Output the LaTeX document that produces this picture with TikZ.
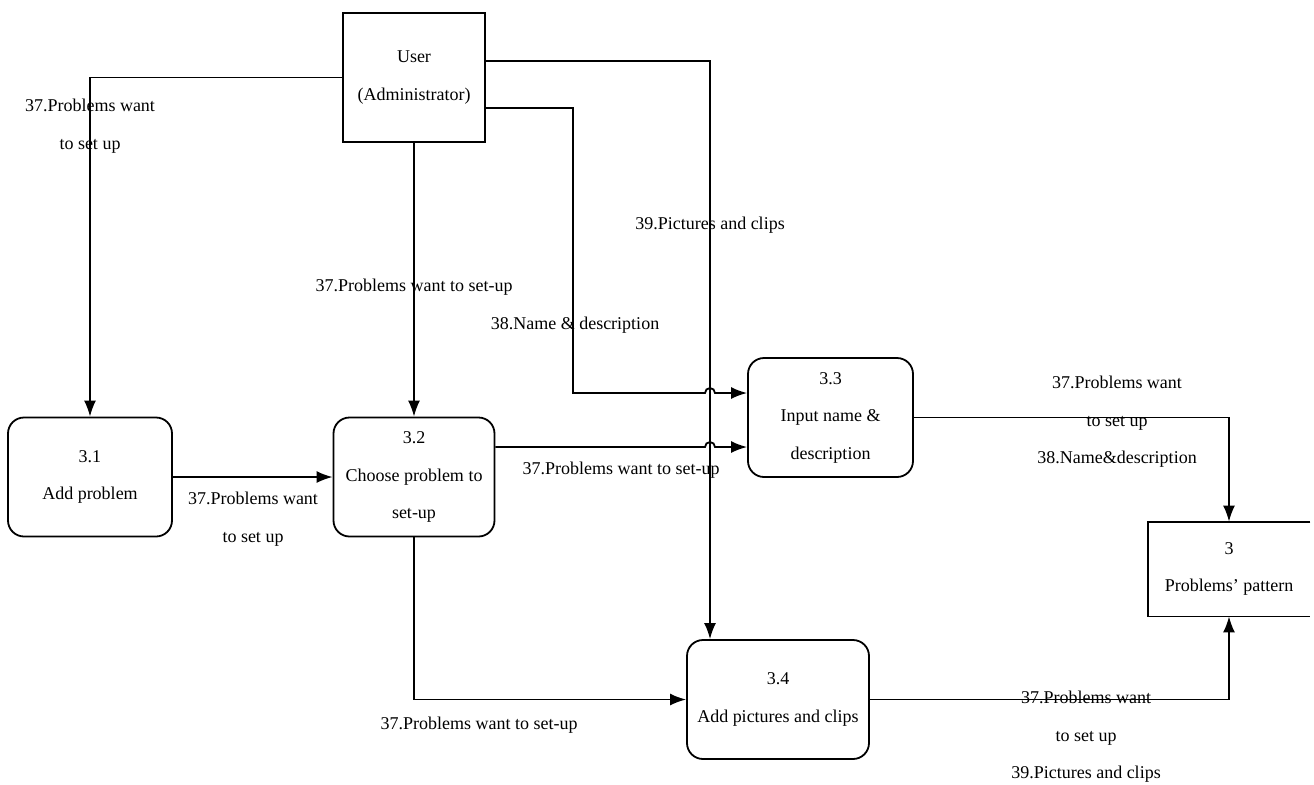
\documentclass[tikz,border=0pt]{standalone}
\usepackage{fontspec}
\setmainfont{Liberation Serif}
\usepackage{tikz}
\usetikzlibrary{arrows.meta}
\tikzstyle{process}=[draw=black, line width=0.9pt, rounded corners=8pt, align=center, inner sep=0pt, minimum height=59.5pt]
\tikzstyle{entity}=[draw=black, line width=0.9pt, align=center, inner sep=0pt]
\tikzstyle{store}=[align=center, inner sep=0pt, minimum width=81pt, minimum height=47pt]
\tikzstyle{flow label}=[align=center, inner sep=0pt]
\tikzstyle{dataflow}=[draw=black, line width=0.9pt, -{Latex[length=8pt,width=6pt]}]
\tikzstyle{plain line}=[draw=black, line width=0.9pt]
\pgfdeclarelayer{nodelayer}
\pgfdeclarelayer{edgelayer}
\pgfsetlayers{main,nodelayer,edgelayer}

\begin{document}
\begin{tikzpicture}[x=0.5pt, y=-0.5pt, font=\fontsize{9}{18.75}\selectfont]
	\useasboundingbox (0, 0) rectangle (1314, 784);
	\begin{pgfonlayer}{nodelayer}
		\node [style=entity, minimum width=71pt, minimum height=64.5pt] (0) at (414, 77.5) {User\\(Administrator)};
		\node [style=process, minimum width=82pt] (1) at (90, 477) {3.1\\Add problem};
		\node [style=process, minimum width=80.5pt] (2) at (414, 477) {3.2\\Choose problem to\\set-up};
		\node [style=process, minimum width=82.5pt] (3) at (830.5, 417.5) {3.3\\Input name \&\\description};
		\node [style=store] (4) at (1229, 569) {3\\Problems’ pattern};
		\node [style=process, minimum width=91pt] (5) at (778, 699.5) {3.4\\Add pictures and clips};

		\node [style=flow label] (20) at (90, 126) {37.Problems want\\to set up};
		\node [style=flow label] (21) at (414, 287) {37.Problems want to set-up};
		\node [style=flow label] (22) at (575, 325) {38.Name \& description};
		\node [style=flow label] (23) at (710, 225) {39.Pictures and clips};
		\node [style=flow label] (24) at (253, 519) {37.Problems want\\to set up};
		\node [style=flow label] (25) at (621, 470) {37.Problems want to set-up};
		\node [style=flow label] (26) at (479, 725) {37.Problems want to set-up};
		\node [style=flow label] (27) at (1117, 422) {37.Problems want\\to set up\\38.Name\&description};
		\node [style=flow label] (28) at (1086, 737) {37.Problems want\\to set up\\39.Pictures and clips};

		\coordinate (10) at (710, 61);
		\coordinate (11) at (573, 108);
		\coordinate (12) at (710, 393);
		\coordinate (13) at (710, 447);
	\end{pgfonlayer}
	\begin{pgfonlayer}{edgelayer}
		\draw [style=plain line] (4.north east) -- (4.north west) -- (4.south west) -- (4.south east);

		\draw [style=dataflow] (0) -| (1);
		\draw [style=dataflow] (0) -- (2);
		\draw [style=dataflow] (1) -- (2);
		\draw [style=dataflow] (0.east |- 10) -- (10) -- (5.north -| 10);
		\draw [style=dataflow] (0.east |- 11) -- (11) |- ([xshift=-2.5pt]12) arc [start angle=180, end angle=360, radius=5] -- (3.west |- 12);
		\draw [style=dataflow] (2.east |- 13) -- ([xshift=-2.5pt]13) arc [start angle=180, end angle=360, radius=5] -- (3.west |- 13);
		\draw [style=dataflow] (3) -| (4);
		\draw [style=dataflow] (2) |- (5);
		\draw [style=dataflow] (5) -| (4);
	\end{pgfonlayer}
\end{tikzpicture}
\end{document}
